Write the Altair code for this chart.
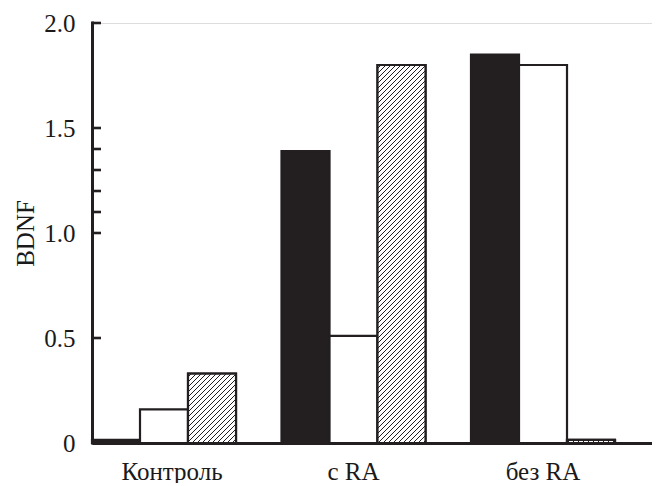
import altair as alt
import pandas as pd

# ---- data ----
groups = ["Контроль", "с RA", "без RA"]
series = ["черный", "белый", "штриховка"]
black_vals = [0.015, 1.39, 1.85]
white_vals = [0.16, 0.51, 1.80]
hatch_vals = [0.33, 1.80, 0.015]
y_tick_values = [0, 0.5, 1.0, 1.1, 1.2, 1.3, 1.4, 1.5, 2.0]
y_label_values = [0, 0.5, 1.0, 1.5, 2.0]

rows = []
for g, b, w, h in zip(groups, black_vals, white_vals, hatch_vals):
    rows.append({"group": g, "series": series[0], "value": b})
    rows.append({"group": g, "series": series[1], "value": w})
    rows.append({"group": g, "series": series[2], "value": h})
df = pd.DataFrame(rows)
ticks_df = pd.DataFrame({"value": y_tick_values})
domain_df = pd.DataFrame({"value": [y_tick_values[0]], "value2": [y_tick_values[-1]]})

# ---- layout / style ----
INK = "#231f20"
TXT = "#1a1a1a"
FONT = "Liberation Serif"
PLOT_W, PLOT_H = 560, 420
Y_MAX = 2.0
PAD_INNER = 0.24
n = len(groups)
step_target = 189.5
PAD_OUTER = max((PLOT_W / step_target - (n - PAD_INNER)) / 2, 0)
step = PLOT_W / (n - PAD_INNER + 2 * PAD_OUTER)
BAR_W = step * (1 - PAD_INNER) / len(series)


def hatch_gradient(v, period_px=5.0, line_px=1.5):
    h = max(v * PLOT_H / Y_MAX, 0.5)
    w = BAR_W
    r = h / w
    s = (1 + r) / (1 + r * r)
    total = w + h
    per = period_px / total
    lw = line_px / total
    stops = [{"offset": 0, "color": "white"}]
    a = per / 2
    while a < 1:
        e = min(a + lw, 1)
        stops += [
            {"offset": a, "color": "white"},
            {"offset": a, "color": INK},
            {"offset": e, "color": INK},
            {"offset": e, "color": "white"},
        ]
        a += per
    stops.append({"offset": 1, "color": "white"})
    return {"gradient": "linear", "x1": 0, "y1": 0, "x2": s, "y2": s * r, "stops": stops}


x_enc = alt.X(
    "group:N",
    sort=groups,
    scale=alt.Scale(paddingInner=PAD_INNER, paddingOuter=PAD_OUTER, align=0),
    axis=alt.Axis(
        title=None,
        labelFont=FONT,
        labelFontSize=25,
        labelColor=TXT,
        labelAngle=0,
        labelPadding=16,
        labelOffset={"condition": {"test": f"datum.value === '{groups[0]}'", "value": 8}, "value": 0},
        ticks=False,
        domainColor=INK,
        domainWidth=3,
        translate=0.5,
    ),
)
xoff_enc = alt.XOffset("series:N", sort=series, scale=alt.Scale(paddingInner=0, paddingOuter=0))
y_axis = alt.Axis(
    title="BDNF",
    titleFont=FONT,
    titleFontSize=25,
    titleFontWeight="normal",
    titleColor=TXT,
    titlePadding=5,
    values=y_label_values,
    labelExpr="datum.value == 0 ? '0' : format(datum.value, '.1f')",
    labelFont=FONT,
    labelFontSize=25,
    labelColor=TXT,
    labelPadding=17,
    ticks=False,
    tickSize=0,
    grid=False,
    domain=False,
)
y_scale = alt.Scale(domain=[0, Y_MAX], nice=False)
y_enc = alt.Y("value:Q", scale=y_scale, axis=y_axis)

base = alt.Chart(df)

bars = base.mark_bar(stroke=INK, strokeWidth=2.2).encode(
    x=x_enc,
    xOffset=xoff_enc,
    y=y_enc,
    fill=alt.Fill("series:N", sort=series,
                  scale=alt.Scale(domain=series, range=[INK, "white", "white"]),
                  legend=None),
)

hatch_layers = []
for g, v in zip(groups, hatch_vals):
    hatch_layers.append(
        base.transform_filter(
            (alt.datum.group == g) & (alt.datum.series == series[2])
        ).mark_bar(fill=hatch_gradient(v), stroke=INK, strokeWidth=2.2).encode(
            x=x_enc, xOffset=xoff_enc, y=y_enc
        )
    )

tick_rules = alt.Chart(ticks_df).mark_rule(color=INK, strokeWidth=2.6).encode(
    y=y_enc,
    x=alt.value(0),
    x2=alt.value(9),
)

domain_rule = alt.Chart(domain_df).mark_rule(color=INK, strokeWidth=3, strokeCap="square").encode(
    y=y_enc,
    y2="value2:Q",
    x=alt.value(0.5),
)

chart = alt.layer(bars, *hatch_layers, tick_rules, domain_rule).properties(
    width=PLOT_W,
    height=PLOT_H,
    padding={"left": 84, "top": 15, "right": 0, "bottom": 40},
    autosize=alt.AutoSizeParams(type="none"),
).configure_view(stroke=None).configure(background="white")

chart.save("out.html", embed_options={"renderer": "svg", "actions": False})
